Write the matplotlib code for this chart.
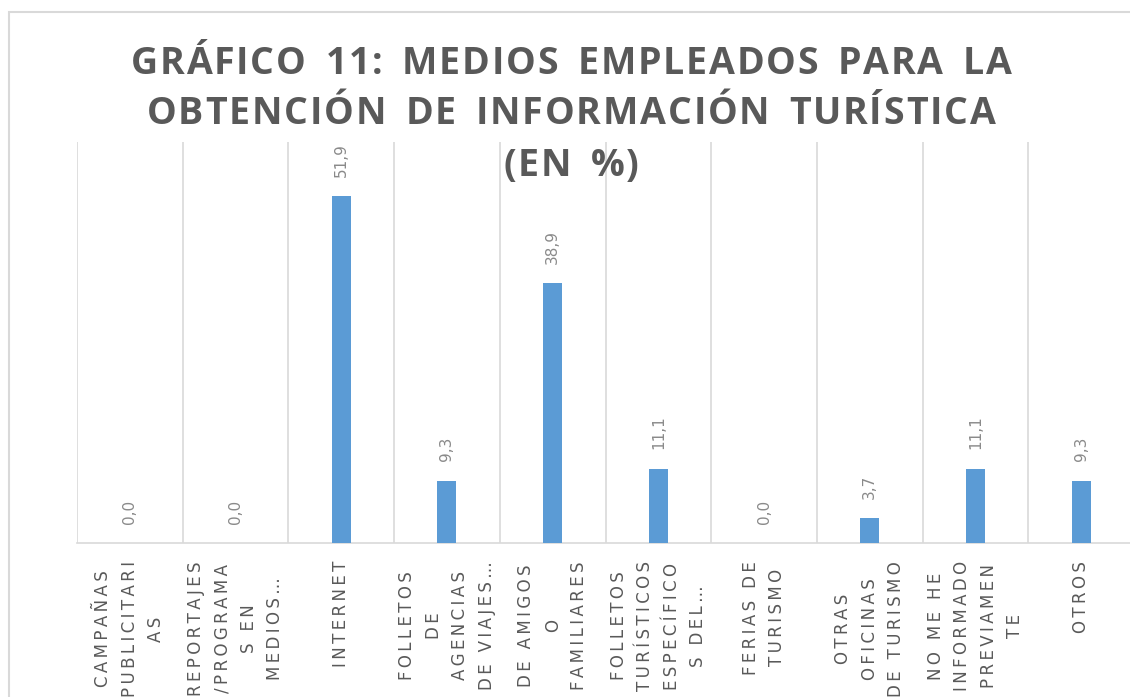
import matplotlib.pyplot as plt
from matplotlib.patches import Rectangle

categories = [
    "CAMPAÑAS\nPUBLICITARI\nAS",
    "REPORTAJES\n/PROGRAMA\nS EN\nMEDIOS…",
    "INTERNET",
    "FOLLETOS\nDE\nAGENCIAS\nDE VIAJES…",
    "DE AMIGOS\nO\nFAMILIARES",
    "FOLLETOS\nTURÍSTICOS\nESPECÍFICO\nS DEL…",
    "FERIAS DE\nTURISMO",
    "OTRAS\nOFICINAS\nDE TURISMO",
    "NO ME HE\nINFORMADO\nPREVIAMEN\nTE",
    "OTROS",
]
values = [0.0, 0.0, 51.9, 9.3, 38.9, 11.1, 0.0, 3.7, 11.1, 9.3]
title_lines = [
    "GRÁFICO 11: MEDIOS EMPLEADOS PARA LA",
    "OBTENCIÓN DE INFORMACIÓN TURÍSTICA",
    "(EN %)",
]

THIN = "\u2009"


def spaced(s):
    return "\n".join(THIN.join(line) for line in s.split("\n"))


W, H = 1130, 697
fig = plt.figure(figsize=(W / 100, H / 100), dpi=100)
fig.patch.set_facecolor("white")
renderer = fig.canvas.get_renderer()

ax = fig.add_axes([77 / W, 1 - 543 / H, (1134 - 77) / W, (543 - 142) / H])
x = list(range(len(values)))
ax.bar(x, values, width=0.18, color="#5B9BD5", zorder=3)
ax.set_xlim(-0.5, len(values) - 0.5)
ax.set_ylim(0, 60)
for b in range(len(values) + 1):
    ax.axvline(b - 0.5, color="#d9d9d9", lw=1.2, zorder=1)
for s in ["top", "right", "left"]:
    ax.spines[s].set_visible(False)
ax.spines["bottom"].set_color("#d9d9d9")
ax.spines["bottom"].set_linewidth(1.2)
ax.set_xticks([])
ax.set_yticks([])

for i, v in enumerate(values):
    ax.annotate(f"{v:.1f}".replace(".", ","), (i, v), xytext=(0, 14),
                textcoords="offset points", rotation=90, ha="center",
                va="bottom", color="#8a8a8a", fontsize=11)

for i, c in enumerate(categories):
    ax.annotate(spaced(c), xy=(i, 0), xycoords=("data", "axes fraction"),
                xytext=(0, -13), textcoords="offset points", rotation=90,
                ha="center", va="top", multialignment="center",
                fontsize=12, color="#595959", linespacing=1.6,
                annotation_clip=False)


def spaced_title(line, xc, y, letter_gap, word_gap, **kw):
    widths = []
    for ch in line:
        if ch == " ":
            widths.append(word_gap)
        else:
            t = fig.text(0, 0, ch, **kw)
            widths.append(t.get_window_extent(renderer).width)
            t.remove()
    total = sum(widths) + letter_gap * (len(line) - 1)
    xp = xc - total / 2
    for ch, w in zip(line, widths):
        if ch != " ":
            fig.text(xp / W, 1 - y / H, ch, ha="left", va="baseline", **kw)
        xp += w + letter_gap


tkw = dict(fontsize=27, fontweight="bold", family="Open Sans", color="#595959")
ys = [74, 124, 176]
for line, y in zip(title_lines, ys):
    spaced_title(line, 571, y, 1.8, 16, **tkw)

fig.add_artist(Rectangle((9 / W, -0.1), 2, 1.1 - 12 / H, transform=fig.transFigure,
                         fill=False, ec="#d9d9d9", lw=1.5))

fig.savefig("out.png", dpi=100)
